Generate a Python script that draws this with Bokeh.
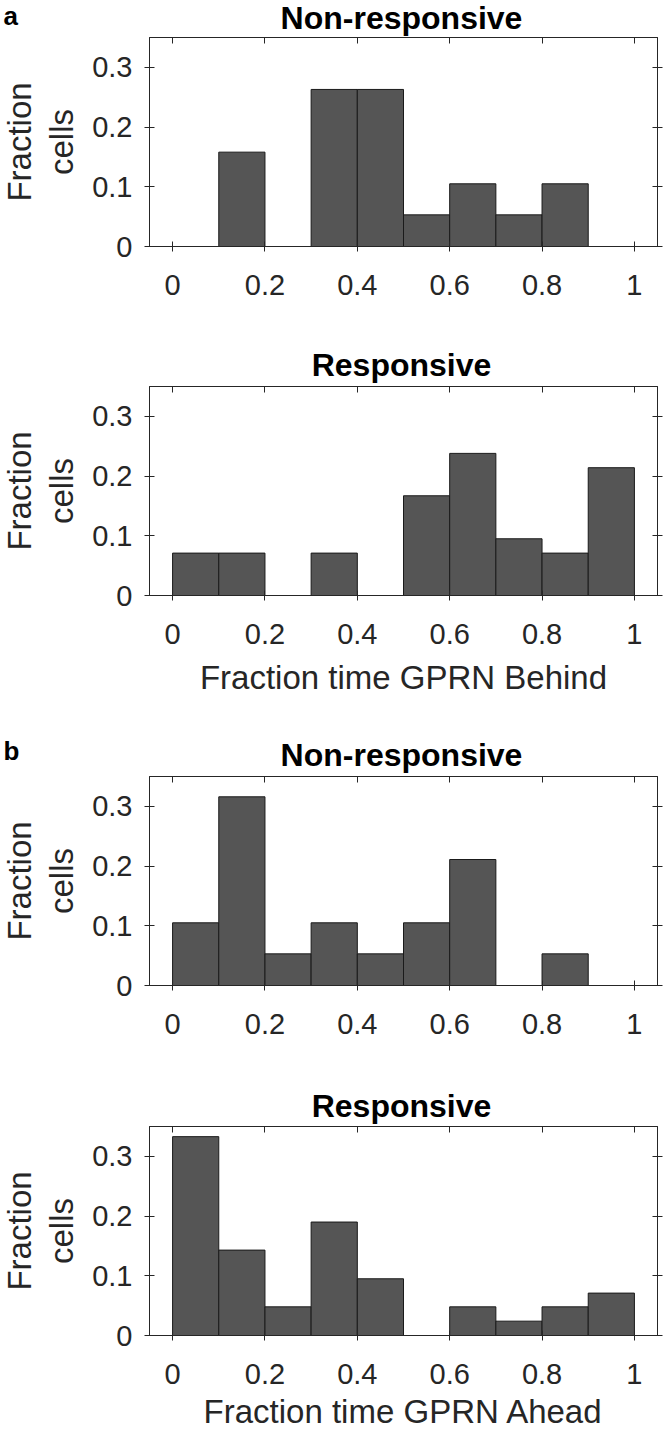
import math
from bokeh.plotting import figure
from bokeh.models import Range1d, FixedTicker, LinearAxis, Label
from bokeh.layouts import column, row
from bokeh.embed import file_html
from bokeh.resources import INLINE

# ---------------- data ----------------
bin_edges = [0.0, 0.1, 0.2, 0.3, 0.4, 0.5, 0.6, 0.7, 0.8, 0.9, 1.0]

nonresp_behind = [0.0, 0.158, 0.0, 0.263, 0.263, 0.053, 0.105, 0.053, 0.105, 0.0]
resp_behind = [0.071, 0.071, 0.0, 0.071, 0.0, 0.167, 0.238, 0.095, 0.071, 0.214]
nonresp_ahead = [0.105, 0.316, 0.053, 0.105, 0.053, 0.105, 0.211, 0.0, 0.053, 0.0]
resp_ahead = [0.333, 0.143, 0.048, 0.190, 0.095, 0.0, 0.048, 0.024, 0.048, 0.071]

titles = ["Non-responsive", "Responsive", "Non-responsive", "Responsive"]
x_labels = [None, "Fraction time GPRN Behind", None, "Fraction time GPRN Ahead"]
panel_letters = ["a", None, "b", None]
y_label_lines = ["Fraction", "cells"]

x_ticks = [0, 0.2, 0.4, 0.6, 0.8, 1]
x_tick_labels = ["0", "0.2", "0.4", "0.6", "0.8", "1"]
y_ticks = [0, 0.1, 0.2, 0.3]
y_tick_labels = ["0", "0.1", "0.2", "0.3"]

# ---------------- style / layout ----------------
FONT = "Liberation Sans"
AX = "#262626"
BAR_FILL = "#555555"
BAR_LINE = "#1a1a1a"
YLAB_W = 89          # strip holding the two-line y label
AXIS_W = 58          # room for y ticks + tick labels
FRAME_W = 508
FRAME_H = 209
RIGHT = 9
TOTAL_W = YLAB_W + AXIS_W + FRAME_W + RIGHT
TOP = 1

# header height, title / letter centre (from header bottom), panel bottom border,
# x-label standoff
layout_spec = [
    dict(head=36, t_mid=18.1, l_mid=21, bottom=99, xl_standoff=None),
    dict(head=40, t_mid=20.1, l_mid=None, bottom=137, xl_standoff=12),
    dict(head=43, t_mid=20.1, l_mid=25, bottom=103, xl_standoff=None),
    dict(head=37, t_mid=19.4, l_mid=None, bottom=94, xl_standoff=6),
]


def bare_fig(w, h):
    f = figure(output_backend="svg", toolbar_location=None, tools="",
               width=w, height=h, min_border=0,
               min_border_left=0, min_border_right=0,
               min_border_top=0, min_border_bottom=0,
               x_range=Range1d(0, w), y_range=Range1d(0, h),
               x_axis_type=None, y_axis_type=None)
    f.frame_align = False
    f.title = None
    f.outline_line_color = None
    f.background_fill_color = "white"
    f.border_fill_color = "white"
    return f


def style_axis(ax, ticks, labels, font_size="29px", t_in=5, t_out=5):
    ax.ticker = FixedTicker(ticks=ticks)
    ax.axis_line_color = AX
    ax.axis_line_width = 1
    ax.major_tick_line_color = AX
    ax.major_tick_in = t_in
    ax.major_tick_out = t_out
    ax.minor_tick_line_color = None
    ax.major_label_text_font = FONT
    ax.major_label_text_color = AX
    ax.major_label_text_font_size = font_size
    ax.major_label_overrides = {t: s for t, s in zip(ticks, labels)}


def make_header(title, letter, spec):
    h = spec["head"]
    hd = bare_fig(TOTAL_W, h)
    hd.add_layout(Label(x=YLAB_W + AXIS_W + FRAME_W / 2, y=spec["t_mid"], text=title,
                        text_align="center", text_baseline="middle",
                        text_font=FONT, text_font_style="bold",
                        text_font_size="32px", text_color="black"))
    if letter:
        hd.add_layout(Label(x=3, y=spec["l_mid"], text=letter,
                            text_align="left", text_baseline="middle",
                            text_font=FONT, text_font_style="bold",
                            text_font_size="26px", text_color="black"))
    return hd


def make_ylabel(total_h):
    f = bare_fig(YLAB_W, total_h)
    yc = total_h - (TOP + FRAME_H / 2)
    for txt, xc in zip(y_label_lines, [19, 61]):
        f.add_layout(Label(x=xc, y=yc, text=txt, angle=math.pi / 2,
                           text_align="center", text_baseline="middle",
                           text_font=FONT, text_font_size="33px",
                           text_color=AX))
    return f


def make_panel(vals, xlabel, spec):
    p = figure(
        output_backend="svg", toolbar_location=None, tools="",
        frame_width=FRAME_W, frame_height=FRAME_H,
        min_border_left=AXIS_W, min_border_right=RIGHT,
        min_border_top=TOP, min_border_bottom=spec["bottom"],
        x_range=Range1d(-0.05, 1.05), y_range=Range1d(0, 0.35),
    )
    p.title = None
    p.xgrid.visible = False
    p.ygrid.visible = False
    p.outline_line_color = AX
    p.outline_line_width = 1
    p.background_fill_color = "white"
    p.border_fill_color = "white"

    p.quad(left=bin_edges[:-1], right=bin_edges[1:], bottom=0, top=vals,
           fill_color=BAR_FILL, line_color=BAR_LINE, line_width=1)

    style_axis(p.xaxis[0], x_ticks, x_tick_labels)
    p.xaxis[0].major_label_standoff = 23
    style_axis(p.yaxis[0], y_ticks, y_tick_labels)
    p.yaxis[0].major_label_standoff = 12

    if xlabel:
        xax = p.xaxis[0]
        xax.axis_label = xlabel
        xax.axis_label_text_font = FONT
        xax.axis_label_text_font_size = "33px"
        xax.axis_label_text_font_style = "normal"
        xax.axis_label_text_color = AX
        xax.axis_label_standoff = spec["xl_standoff"]

    top_ax = LinearAxis()
    style_axis(top_ax, x_ticks, [""] * len(x_ticks), font_size="1px", t_in=6, t_out=0)
    top_ax.major_label_standoff = 0
    p.add_layout(top_ax, "above")
    right_ax = LinearAxis()
    style_axis(right_ax, y_ticks, [""] * len(y_ticks), font_size="1px")
    right_ax.major_label_standoff = 0
    p.add_layout(right_ax, "right")
    return p


series = [nonresp_behind, resp_behind, nonresp_ahead, resp_ahead]
items = []
for i in range(4):
    spec = layout_spec[i]
    items.append(make_header(titles[i], panel_letters[i], spec))
    panel_h = TOP + FRAME_H + spec["bottom"]
    items.append(row(make_ylabel(panel_h), make_panel(series[i], x_labels[i], spec),
                     spacing=0))

layout = column(*items, spacing=0)
open("out.html", "w").write(file_html(layout, INLINE))
